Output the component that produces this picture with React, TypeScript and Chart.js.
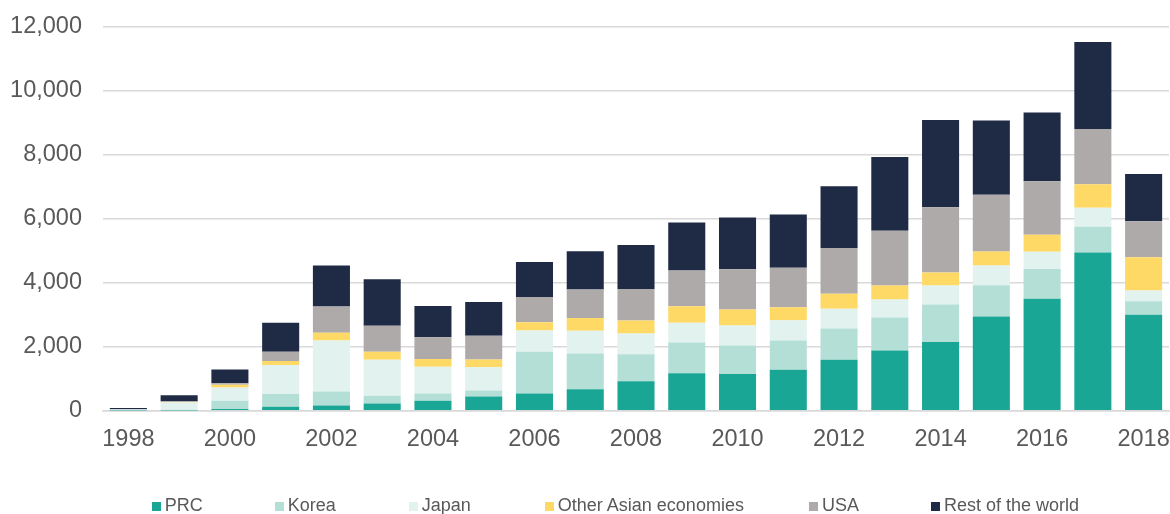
import React, { useEffect, useRef } from "react";
import { Chart, registerables } from "chart.js";

Chart.register(...registerables);

const years = [
  "1998", "1999", "2000", "2001", "2002", "2003", "2004", "2005", "2006", "2007",
  "2008", "2009", "2010", "2011", "2012", "2013", "2014", "2015", "2016", "2017", "2018",
];

const prc = [5, 10, 50, 125, 160, 225, 310, 440, 540, 670, 920, 1170, 1150, 1280, 1590, 1880, 2150, 2940, 3500, 4940, 3000];
const korea = [10, 20, 260, 400, 440, 245, 230, 190, 1300, 1115, 845, 960, 885, 915, 980, 1030, 1165, 980, 930, 810, 420];
const japan = [20, 230, 415, 905, 1595, 1125, 835, 730, 665, 710, 645, 615, 625, 635, 615, 565, 595, 615, 540, 595, 335];
const otherAsia = [0, 15, 85, 125, 240, 245, 240, 240, 260, 405, 405, 520, 500, 400, 470, 440, 405, 440, 530, 730, 1040];
const usa = [10, 20, 50, 290, 820, 815, 680, 740, 790, 885, 990, 1115, 1260, 1235, 1430, 1710, 2040, 1770, 1670, 1730, 1125];
const restOfWorld = [40, 190, 430, 900, 1285, 1455, 980, 1060, 1095, 1200, 1375, 1500, 1615, 1665, 1930, 2300, 2730, 2325, 2145, 2720, 1480];

const yTicks = [0, 2000, 4000, 6000, 8000, 10000, 12000];

const seriesNames = ["PRC", "Korea", "Japan", "Other Asian economies", "USA", "Rest of the world"];
const seriesValues = [prc, korea, japan, otherAsia, usa, restOfWorld];
const seriesColors = ["#1aa695", "#b4dfd7", "#e2f2ef", "#ffd966", "#aeaaa9", "#1f2b44"];

const legendGaps = [72, 73, 74, 65, 72, 0];

const FONT = "'Liberation Sans', Arial, sans-serif";
const TEXT = "#595959";

export default function App() {
  const canvasRef = useRef<HTMLCanvasElement | null>(null);

  useEffect(() => {
    const canvas = canvasRef.current;
    if (!canvas) return;
    const chart = new Chart(canvas, {
      type: "bar",
      data: {
        labels: years,
        datasets: seriesNames.map((name, i) => ({
          label: name,
          data: seriesValues[i],
          backgroundColor: seriesColors[i],
          borderWidth: 0,
          barPercentage: 0.73,
          categoryPercentage: 1,
        })),
      },
      options: {
        responsive: false,
        maintainAspectRatio: false,
        animation: false,
        layout: { padding: { top: 26.7, right: 1, left: 0, bottom: 0 } },
        plugins: {
          legend: { display: false },
          tooltip: { enabled: false },
        },
        scales: {
          x: {
            stacked: true,
            grid: { display: false, drawTicks: false },
            border: { display: true, color: "#d9d9d9", width: 1.5 },
            ticks: {
              autoSkip: false,
              maxRotation: 0,
              padding: 15,
              color: TEXT,
              font: { family: FONT, size: 23.5 },
              callback: (_v: any, idx: number) => (Number(years[idx]) % 2 === 0 ? years[idx] : ""),
            },
            afterFit: (scale: any) => {
              scale.height = 103.3;
              scale.paddingLeft = 0;
              scale.paddingRight = 0;
            },
          },
          y: {
            stacked: true,
            min: 0,
            max: 12000,
            afterBuildTicks: (scale: any) => {
              scale.ticks = yTicks.map((v) => ({ value: v }));
            },
            grid: { color: "#d9d9d9", lineWidth: 1.5, drawTicks: false },
            border: { display: false },
            ticks: {
              padding: 21,
              color: TEXT,
              font: { family: FONT, size: 23.5 },
              callback: (v: any) => Number(v).toLocaleString("en-US"),
            },
            afterFit: (scale: any) => {
              scale.width = 103;
              scale.paddingTop = 0;
              scale.paddingBottom = 0;
            },
          },
        },
      },
    });
    return () => chart.destroy();
  }, []);

  return (
    <div style={{ position: "fixed", left: 0, top: 0, width: 1170, height: 514, background: "#fff", overflow: "hidden" }}>
      <canvas ref={canvasRef} width={1170} height={514} style={{ position: "absolute", left: 0, top: 0, width: 1170, height: 514 }} />
      <div
        style={{
          position: "absolute",
          left: 151.7,
          top: 495,
          display: "flex",
          alignItems: "baseline",
          whiteSpace: "nowrap",
          fontFamily: FONT,
          fontSize: 18,
          lineHeight: "20px",
          color: TEXT,
        }}
      >
        {seriesNames.map((name, i) => (
          <span key={name} style={{ marginRight: legendGaps[i] }}>
            <span
              style={{
                display: "inline-block",
                width: 9,
                height: 9,
                background: seriesColors[i],
                marginRight: 4,
                verticalAlign: "baseline",
              }}
            />
            {name}
          </span>
        ))}
      </div>
    </div>
  );
}
